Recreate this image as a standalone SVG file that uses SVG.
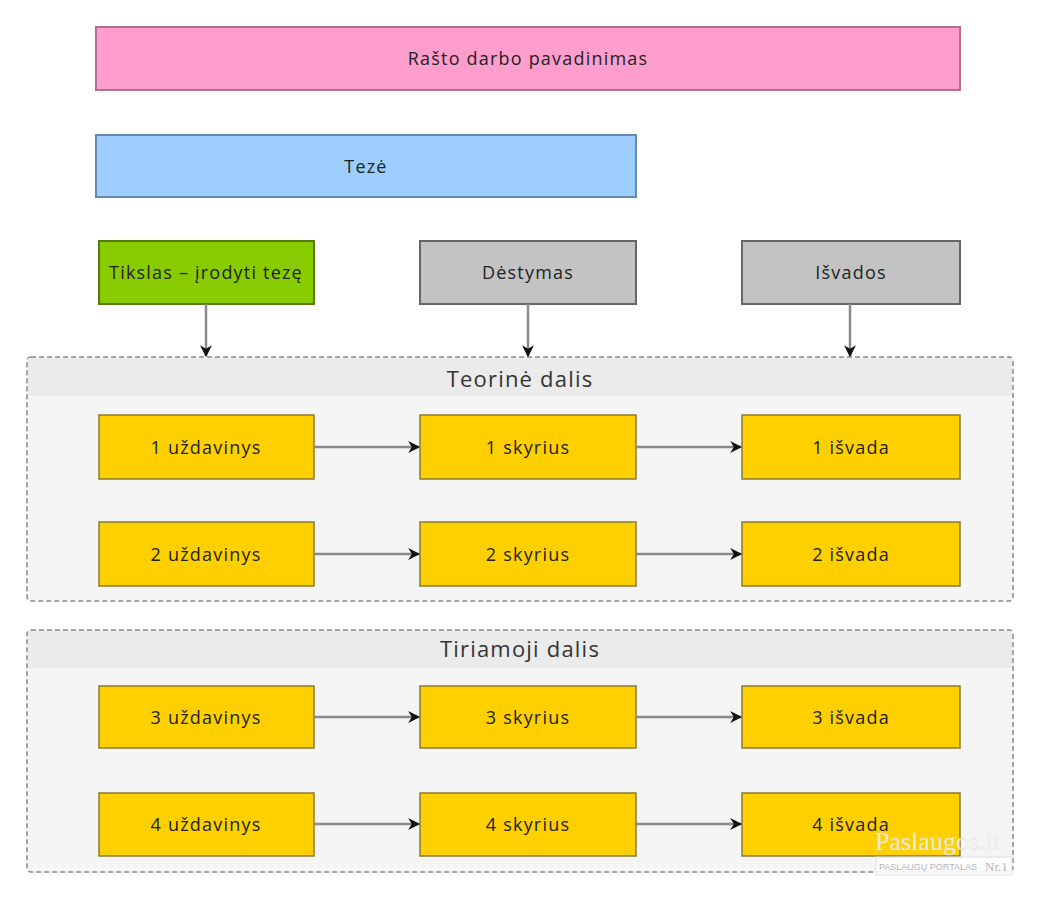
<svg xmlns="http://www.w3.org/2000/svg" width="1038" height="900" viewBox="0 0 1038 900">
<defs>
<style>
.t{font-family:"Open Sans","DejaVu Sans",sans-serif;font-size:18px;letter-spacing:1.2px;fill:#222;text-anchor:middle;dominant-baseline:central}
.big{font-size:22px;fill:#333}
.n{stroke:#666;stroke-width:2}
.y{fill:#FFD000;stroke:#8a7a30;stroke-width:1.5}
.grp{fill:#f5f5f5;stroke:#888;stroke-width:1.5;stroke-dasharray:5 3}
.hdr{fill:#ebebeb}
.c{stroke:#8a8a8a;stroke-width:2.5;fill:none;marker-end:url(#a)}
</style>
<marker id="a" viewBox="0 0 10 10" refX="9" refY="5" markerWidth="12" markerHeight="12" orient="auto" markerUnits="userSpaceOnUse">
<path d="M0,0 L10,5 L0,10 L3,5 z" fill="#111"/>
</marker>
</defs>
<rect width="1038" height="900" fill="#fff"/>
<g id="title"><rect x="96" y="27" width="864" height="63" fill="#FF9ECD" stroke="#b07090" stroke-width="2"/><text class="t" x="528" y="58">Rašto darbo pavadinimas</text></g>
<g id="teze"><rect x="96" y="135" width="540" height="62" fill="#9ECEFF" stroke="#6688aa" stroke-width="2"/><text class="t" x="366" y="166">Tezė</text></g>
<g id="tikslas"><rect x="99" y="241" width="215" height="63" fill="#88CC00" stroke="#557a10" stroke-width="2"/><text class="t" x="206" y="272">Tikslas – įrodyti tezę</text></g>
<g id="destymas"><rect x="420" y="241" width="216" height="63" fill="#C3C3C3" class="n"/><text class="t" x="528" y="272">Dėstymas</text></g>
<g id="isvados"><rect x="742" y="241" width="218" height="63" fill="#C3C3C3" class="n"/><text class="t" x="851" y="272">Išvados</text></g>
<g id="teorine"><rect class="grp" x="27" y="357" width="986" height="244" rx="4"/><rect class="hdr" x="28" y="358" width="984" height="38"/><text class="t big" x="520" y="378">Teorinė dalis</text></g>
<g id="tiriamoji"><rect class="grp" x="27" y="630" width="986" height="242" rx="4"/><rect class="hdr" x="28" y="631" width="984" height="37"/><text class="t big" x="520" y="648">Tiriamoji dalis</text></g>
<g id="u1"><rect class="y" x="99" y="415" width="215" height="64"/><text class="t" x="206" y="447">1 uždavinys</text></g>
<g id="s1"><rect class="y" x="420" y="415" width="216" height="64"/><text class="t" x="528" y="447">1 skyrius</text></g>
<g id="i1"><rect class="y" x="742" y="415" width="218" height="64"/><text class="t" x="851" y="447">1 išvada</text></g>
<g id="u2"><rect class="y" x="99" y="522" width="215" height="64"/><text class="t" x="206" y="554">2 uždavinys</text></g>
<g id="s2"><rect class="y" x="420" y="522" width="216" height="64"/><text class="t" x="528" y="554">2 skyrius</text></g>
<g id="i2"><rect class="y" x="742" y="522" width="218" height="64"/><text class="t" x="851" y="554">2 išvada</text></g>
<g id="u3"><rect class="y" x="99" y="686" width="215" height="62"/><text class="t" x="206" y="717">3 uždavinys</text></g>
<g id="s3"><rect class="y" x="420" y="686" width="216" height="62"/><text class="t" x="528" y="717">3 skyrius</text></g>
<g id="i3"><rect class="y" x="742" y="686" width="218" height="62"/><text class="t" x="851" y="717">3 išvada</text></g>
<g id="u4"><rect class="y" x="99" y="793" width="215" height="63"/><text class="t" x="206" y="824">4 uždavinys</text></g>
<g id="s4"><rect class="y" x="420" y="793" width="216" height="63"/><text class="t" x="528" y="824">4 skyrius</text></g>
<g id="i4"><rect class="y" x="742" y="793" width="218" height="63"/><text class="t" x="851" y="824">4 išvada</text></g>
<g id="connectors">
<path class="c" d="M206,304 V356"/>
<path class="c" d="M528,304 V356"/>
<path class="c" d="M850,304 V356"/>
<path class="c" d="M314,447 H419"/>
<path class="c" d="M636,447 H741"/>
<path class="c" d="M314,554 H419"/>
<path class="c" d="M636,554 H741"/>
<path class="c" d="M314,717 H419"/>
<path class="c" d="M636,717 H741"/>
<path class="c" d="M314,824 H419"/>
<path class="c" d="M636,824 H741"/>
</g>
<g id="watermark" opacity="0.85">
<text x="875" y="850" font-family="'Liberation Serif',serif" font-size="26" fill="#f4f4f4" stroke="#ddd" stroke-width="0.3">Paslaugos.lt</text>
<rect x="876" y="857" width="136" height="18" fill="#fff" stroke="#ddd"/>
<text x="879" y="870" font-family="'Liberation Sans',sans-serif" font-size="9" fill="#aaa">PASLAUGŲ PORTALAS</text>
<text x="985" y="871" font-family="'Liberation Serif',serif" font-size="13" fill="#aaa">Nr.1</text>
</g>
</svg>
